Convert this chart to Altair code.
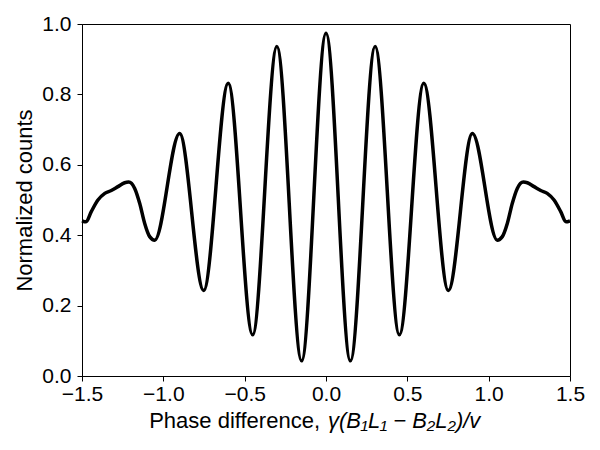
import altair as alt
import pandas as pd

# Values (extrema and shoulder points)
phase = [-1.5, -1.475, -1.443, -1.402, -1.36, -1.32, -1.279, -1.238, -1.213,
         -1.176, -1.145, -1.115, -1.084, -1.053,
         -0.9, -0.752, -0.601, -0.451, -0.302, -0.15, 0.0,
         0.15, 0.302, 0.451, 0.601, 0.752, 0.9,
         1.053, 1.084, 1.115, 1.145, 1.176, 1.213, 1.238, 1.279, 1.32, 1.36,
         1.402, 1.443, 1.475, 1.5]
counts = [0.441, 0.438, 0.467, 0.50, 0.519, 0.527, 0.538, 0.549, 0.551,
          0.533, 0.49, 0.434, 0.396, 0.386,
          0.689, 0.243, 0.832, 0.117, 0.936, 0.043, 0.974,
          0.043, 0.936, 0.117, 0.832, 0.243, 0.689,
          0.386, 0.396, 0.434, 0.49, 0.533, 0.551, 0.549, 0.538, 0.527, 0.519,
          0.50, 0.467, 0.438, 0.441]

x_ticks = [-1.5, -1.0, -0.5, 0.0, 0.5, 1.0, 1.5]
y_ticks = [0.0, 0.2, 0.4, 0.6, 0.8, 1.0]
x_title_plain = "Phase difference,"
x_title_math = "γ(B₁L₁  −  B₂L₂)/v"
y_title = "Normalized counts"

FONT = "Liberation Sans"
W, H = 488, 352

df = pd.DataFrame({"phase": phase, "counts": counts})

line = alt.Chart(df).mark_line(
    color="black", strokeWidth=3.5, interpolate="monotone"
).encode(
    x=alt.X("phase:Q",
            scale=alt.Scale(domain=[-1.5, 1.5], nice=False, zero=False),
            axis=alt.Axis(values=x_ticks, format=".1f", title=None,
                          labelPadding=2, labelFlush=False)),
    y=alt.Y("counts:Q",
            scale=alt.Scale(domain=[0, 1], nice=False),
            axis=alt.Axis(values=y_ticks, format=".1f", title=y_title,
                          labelPadding=6, titleX=-51, titleY=H / 2,
                          titleAlign="center", titleBaseline="alphabetic",
                          titleFontSize=22, titleFontWeight="normal",
                          titleFont=FONT, titleColor="black")),
)

title_df = pd.DataFrame({"k": [0]})
t1 = alt.Chart(title_df).mark_text(
    text=x_title_plain, align="right", baseline="alphabetic",
    font=FONT, fontSize=22, color="black"
).encode(x=alt.value(238), y=alt.value(H + 52))
t2 = alt.Chart(title_df).mark_text(
    text=x_title_math, align="left", baseline="alphabetic",
    font=FONT, fontSize=22, fontStyle="italic", color="black"
).encode(x=alt.value(246), y=alt.value(H + 52))

chart = alt.layer(line, t1, t2).properties(
    width=W, height=H,
    autosize=alt.AutoSizeParams(type="none"),
    padding={"left": 74, "top": 16, "right": 22, "bottom": 66},
).configure_view(
    stroke="black", strokeWidth=1
).configure_axis(
    grid=False, domainColor="black", domainWidth=1,
    tickColor="black", tickWidth=1, tickSize=5,
    labelFont=FONT, labelFontSize=21, labelColor="black",
)

chart.save("out.html", embed_options={"renderer": "svg", "actions": False})
